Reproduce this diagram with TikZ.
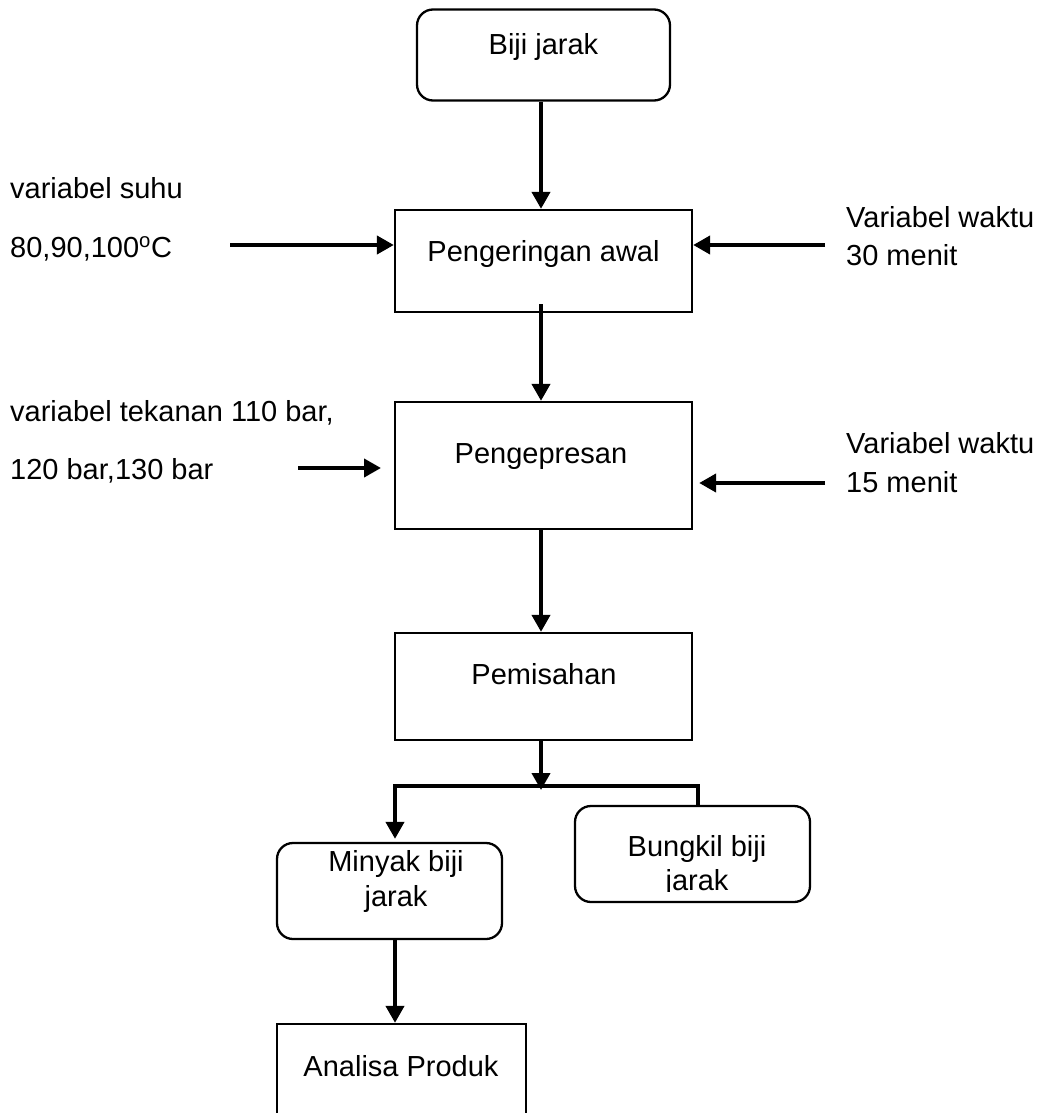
\documentclass[tikz,border=0pt]{standalone}
\usepackage{fontspec}
\setmainfont{Liberation Sans}
\usetikzlibrary{arrows.meta}
\begin{document}
\begin{tikzpicture}[x=1pt, y=-1pt, font=\fontsize{29}{35}\selectfont]
        \tikzstyle{procbox}=[rectangle, draw, line width=2.3pt, inner sep=0pt]
        \tikzstyle{roundbox}=[procbox, rounded corners=16pt]
        \tikzstyle{txt}=[inner sep=0pt, anchor=base]
        \tikzstyle{note}=[inner sep=0pt, anchor=base west]
        \tikzstyle{flow}=[line width=4pt, -{Triangle[length=17pt,width=18pt]}]
        \tikzstyle{pipe}=[line width=4pt]

        \clip (0,0) rectangle (1045,1113);

        % boxes
        \node[roundbox, minimum width=253, minimum height=91] (seed) at (543.5,55) {};
        \node[procbox, minimum width=297, minimum height=102] (dry) at (543.5,261) {};
        \node[procbox, minimum width=297, minimum height=127] (press) at (543.5,465.5) {};
        \node[procbox, minimum width=297, minimum height=107] (sep) at (543.5,686.5) {};
        \node[roundbox, minimum width=225, minimum height=96] (oil) at (389.5,891) {};
        \node[roundbox, minimum width=235, minimum height=96] (cake) at (692.5,854) {};
        \node[procbox, minimum width=249, minimum height=140] (res) at (401.5,1094) {};

        % box texts
        \node[txt] (seedT) at (543.5,55) {Biji jarak};
        \node[txt] (dryT) at (543.5,261) {Pengeringan awal};
        \node[txt] (pressT) at (541,463) {Pengepresan};
        \node[txt] (sepT) at (544,684) {Pemisahan};
        \node[txt] (oilT1) at (396,871) {Minyak biji};
        \node[txt] (oilT2) at (396,906) {jarak};
        \node[txt] (cakeT1) at (697,856) {Bungkil biji};
        \begin{scope}
            \clip (575,806) rectangle (810,891);
            \node[txt] (cakeT2) at (697,890) {jarak};
        \end{scope}
        \node[txt] (resT) at (401,1076) {Analisa Produk};

        % side notes
        \node[note] (suhu1) at (10,198) {variabel suhu};
        \node[note] (suhu2) at (10,257) {80,90,100\textsuperscript{o}C};
        \node[note] (waktu1a) at (846,227) {Variabel waktu};
        \node[note] (waktu1b) at (846,265) {30 menit};
        \node[note] (tekan1) at (10,421) {variabel tekanan 110 bar,};
        \node[note] (tekan2) at (10,479) {120 bar,130 bar};
        \node[note] (waktu2a) at (846,453) {Variabel waktu};
        \node[note] (waktu2b) at (846,492) {15 menit};

        \coordinate (suhuIn) at (230,245);
        \coordinate (waktuIn1) at (825,245);
        \coordinate (tekanIn) at (298,468);
        \coordinate (tekanEnd) at (381,468);
        \coordinate (waktuIn2) at (825,483);
        \coordinate (fork) at (541,786);
        \coordinate (forkL) at (395,786);
        \coordinate (forkR) at (698,786);

        % main line
        \draw[flow] (seed.south -| 541,0) -- (dry.north -| 541,0);
        \draw[flow] ([yshift=9]dry.south -| 541,0) -- (press.north -| 541,0);
        \draw[flow] (press.south -| 541,0) -- (sep.north -| 541,0);
        \draw[flow] (sep.south -| fork) -- ([yshift=-4]fork);
        \draw[pipe] (forkL) -- (forkR);
        \draw[flow] ([yshift=2]forkL) -- ([yshift=3]forkL |- oil.north);
        \draw[pipe] ([yshift=2]forkR) -- (forkR |- cake.north);
        \draw[flow] (forkL |- oil.south) -- (forkL |- res.north);

        % inputs
        \draw[flow] (suhuIn) -- (suhuIn -| dry.west);
        \draw[flow] (waktuIn1) -- (waktuIn1 -| dry.east);
        \draw[flow] (tekanIn) -- (tekanEnd);
        \draw[flow] (waktuIn2) -- ([xshift=6]waktuIn2 -| press.east);
    \end{tikzpicture}
\end{document}
